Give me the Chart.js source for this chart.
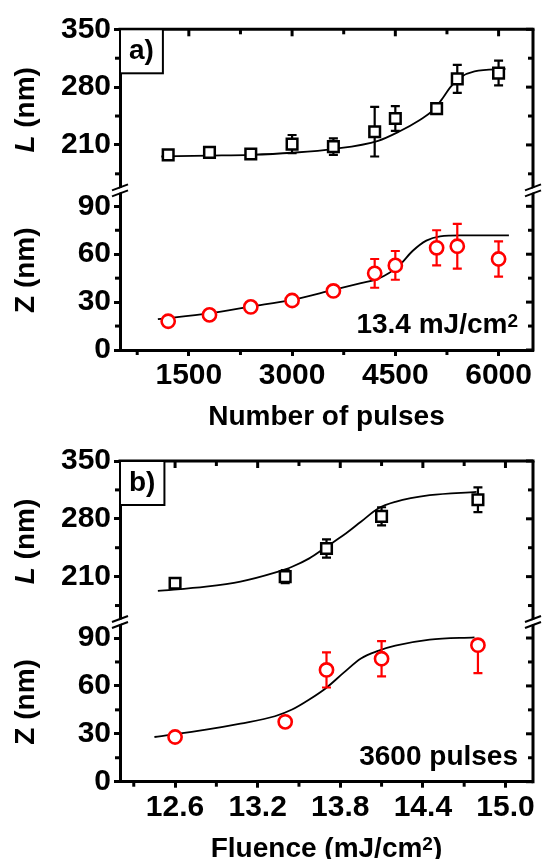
<!DOCTYPE html>
<html>
<head>
<meta charset="utf-8">
<script src="https://cdn.jsdelivr.net/npm/chart.js@4/dist/chart.umd.min.js"></script>
<style>
  body { margin: 0; background: #fff; width: 543px; height: 859px; overflow: hidden; position: relative; }
  canvas { position: absolute; left: 0; }
  #panelA { top: 0; }
  #panelB { top: 440px; }
</style>
</head>
<body>
<canvas id="panelA" width="543" height="440"></canvas>
<canvas id="panelB" width="543" height="419"></canvas>
<script>
const FONT = "'Liberation Sans', Arial, sans-serif";

// a) 13.4 mJ/cm2, varying number of pulses
const pulses = [1200, 1800, 2400, 3000, 3600, 4200, 4500, 5100, 5400, 6000];
const lenA = [198, 201, 199, 211, 208, 226, 242, 254, 290, 297];
const lenErrA = [3, 3, 3, 11, 10, 30, 15, 6, 17, 15];
const depA = [18, 22, 27, 31, 37, 48, 53, 64, 65, 57];
const depErrA = [2, 2, 2, 2, 3, 9, 9, 11, 14, 11];
// fitted curves for a)
const lenFitXA = [1100, 1800, 2400, 3000, 3600, 4250, 4550, 4850, 5050, 5200, 5300, 5450, 5650, 6100];
const lenFitA = [196, 197, 198, 200.5, 205, 215, 226, 240, 252, 268, 280, 292, 299, 302];
const depFitXA = [1050, 1800, 2400, 3000, 3600, 4000, 4250, 4550, 4750, 4950, 5150, 5450, 6150];
const depFitA = [19.3, 23, 27.2, 31.4, 37.7, 41.9, 44.6, 52.7, 62, 68.5, 71.2, 71.8, 71.8];

// b) 3600 pulses, varying fluence
const fluence = [12.6, 13.4, 13.7, 14.1, 14.8];
const lenB = [202, 210, 244, 283, 303];
const lenErrB = [3, 8, 11, 11, 15];
const depB = [28, 37.5, 70, 77, 85.5];
const depErrB = [2, 3, 11, 11, 17.5];
// fitted curves for b)
const lenFitXB = [12.475, 12.825, 13.075, 13.325, 13.45, 13.575, 13.7, 13.825, 13.95, 14.075, 14.2, 14.45, 14.79];
const lenFitB = [192.7, 197.9, 204, 214.8, 222, 232.1, 246.2, 260.3, 276.4, 292.5, 300.5, 308.6, 312.6];
const depFitXB = [12.45, 12.825, 13.075, 13.325, 13.45, 13.575, 13.7, 13.825, 13.95, 14.075, 14.2, 14.45, 14.775];
const depFitB = [28, 32.6, 36.4, 41, 45.2, 51.5, 58.9, 68.3, 77.2, 82, 85.2, 89, 90.4];

// ticks
const lenTicks = [210, 280, 350], lenMinor = [175, 245, 315];
const depTicks = [0, 30, 60, 90], depMinor = [15, 45, 75];
const pulseTicks = [1500, 3000, 4500, 6000], pulseMinor = [750, 2250, 3750, 5250];
const fluTicks = [12.6, 13.2, 13.8, 14.4, 15.0], fluMinor = [12.3, 12.9, 13.5, 14.1, 14.7];

function fontFor(p, size) {
  const s = p.sup ? Math.round(size * 0.68) : size;
  return (p.italic ? 'italic ' : '') + 'bold ' + s + 'px ' + FONT;
}

// text made of pieces (italic / superscript)
function drawRich(ctx, parts, x, y, size, align) {
  let w = 0;
  parts.forEach(p => { ctx.font = fontFor(p, size); w += ctx.measureText(p.t).width; });
  let cx = align === 'right' ? x - w : align === 'center' ? x - w / 2 : x;
  ctx.textAlign = 'left';
  ctx.textBaseline = 'alphabetic';
  ctx.fillStyle = '#000';
  parts.forEach(p => {
    ctx.font = fontFor(p, size);
    ctx.fillText(p.t, cx, p.sup ? y - size * 0.23 : y);
    cx += ctx.measureText(p.t).width;
  });
}

const frame = {
  id: 'frame',
  // error bars go under their markers
  beforeDatasetDraw(chart, args) {
    const ds = chart.data.datasets[args.index];
    if (!ds.err) return;
    const xs = chart.scales.x, ys = chart.scales[ds.yAxisID];
    const ctx = chart.ctx;
    ctx.save();
    ctx.strokeStyle = ds.borderColor;
    ctx.lineWidth = 2.2;
    ds.data.forEach((p, i) => {
      const e = ds.err[i];
      const px = xs.getPixelForValue(p.x);
      const py = ys.getPixelForValue(p.y);
      [p.y + e, p.y - e].forEach(v => {
        if (v > ys.max || v < ys.min) return;
        const q = ys.getPixelForValue(v);
        ctx.beginPath();
        ctx.moveTo(px, py); ctx.lineTo(px, q);
        ctx.moveTo(px - 4.5, q); ctx.lineTo(px + 4.5, q);
        ctx.stroke();
      });
    });
    ctx.restore();
  },
  afterDraw(chart, args, o) {
    const {ctx, chartArea: a, scales} = chart;
    const x = scales.x, yL = scales.yL, yZ = scales.yZ;
    ctx.save();
    ctx.lineCap = 'butt';
    const line = (x1, y1, x2, y2, w) => {
      ctx.lineWidth = w;
      ctx.beginPath(); ctx.moveTo(x1, y1); ctx.lineTo(x2, y2); ctx.stroke();
    };
    ctx.strokeStyle = '#000';
    line(a.left - 1.5, a.top, a.right + 1.5, a.top, 3);
    line(a.right, a.top, a.right, a.bottom + 1.5, 3);

    o.xTicks.forEach(v => {
      const px = x.getPixelForValue(v);
      line(px, a.top, px, a.top + 7, 3);
    });
    o.xMinor.forEach(v => {
      const px = x.getPixelForValue(v);
      line(px, a.bottom, px, a.bottom + 5, 3);
      line(px, a.top, px, a.top + 5, 3);
    });
    [[yL, lenTicks, lenMinor], [yZ, depTicks, depMinor]].forEach(([s, major, minor]) => {
      major.forEach(v => {
        const py = s.getPixelForValue(v);
        line(a.right - 7, py, a.right, py, 3);
      });
      minor.forEach(v => {
        const py = s.getPixelForValue(v);
        line(a.left - 5, py, a.left, py, 3);
        line(a.right - 5, py, a.right, py, 3);
      });
    });

    // axis breaks
    const yb = yL.bottom;
    [a.left, a.right].forEach(bx => {
      ctx.strokeStyle = '#fff';
      line(bx - 8, yb + 3, bx + 8, yb - 3, 4);
      ctx.strokeStyle = '#000';
      line(bx - 8, yb, bx + 8, yb - 6, 2);
      line(bx - 8, yb + 6, bx + 8, yb, 2);
    });

    // panel tag
    ctx.font = 'bold 28px ' + FONT;
    const bw = ctx.measureText(o.tag).width + 18;
    ctx.fillStyle = '#fff';
    ctx.fillRect(a.left, a.top, bw, 44);
    ctx.strokeStyle = '#000';
    ctx.lineWidth = 2;
    ctx.strokeRect(a.left, a.top, bw, 44);
    drawRich(ctx, [{t: o.tag}], a.left + bw / 2, a.top + 30, 28, 'center');

    drawRich(ctx, o.note, a.right - 15, a.bottom - 17, 28, 'right');
    drawRich(ctx, o.xTitle, (a.left + a.right) / 2, a.bottom + 75, 28, 'center');

    [[yL, [{t: 'L', italic: true}, {t: ' (nm)'}]], [yZ, [{t: 'Z (nm)'}]]].forEach(([s, parts]) => {
      ctx.save();
      ctx.translate(24, (s.top + s.bottom) / 2);
      ctx.rotate(-Math.PI / 2);
      drawRich(ctx, parts, 0, 10, 28, 'center');
      ctx.restore();
    });
    ctx.restore();
  }
};

function panel(id, o) {
  const pts = (xs, ys) => xs.map((v, i) => ({x: v, y: ys[i]}));
  const tickFont = {family: FONT, size: 30, weight: 'bold'};
  const grid = {drawOnChartArea: false, drawTicks: true, tickLength: 6, tickWidth: 3, tickColor: '#000'};
  const border = {display: true, color: '#000', width: 3};
  const yAxis = (min, max, ticks, weight, order) => ({
    type: 'linear', axis: 'y', position: 'left', stack: 'seg', stackWeight: weight, weight: order,
    min: min, max: max,
    afterBuildTicks: s => { s.ticks = ticks.map(v => ({value: v})); },
    afterFit: s => { s.width = 120; },
    ticks: {font: tickFont, color: '#000', padding: 3, autoSkip: false, callback: v => String(v)},
    grid: grid, border: border
  });
  return new Chart(document.getElementById(id), {
    type: 'scatter',
    data: {
      datasets: [
        {label: 'L', data: pts(o.x, o.len), err: o.lenErr, yAxisID: 'yL', pointStyle: 'rect', pointRadius: 7.5,
          borderColor: '#000', backgroundColor: '#fff', borderWidth: 2.5},
        {label: 'Z', data: pts(o.x, o.dep), err: o.depErr, yAxisID: 'yZ', pointStyle: 'circle', pointRadius: 6.6,
          borderColor: '#ff0000', backgroundColor: '#fff', borderWidth: 2.6},
        {label: 'L fit', data: pts(o.lenFitX, o.lenFit), yAxisID: 'yL', showLine: true, pointRadius: 0,
          borderColor: '#000', borderWidth: 1.8, cubicInterpolationMode: 'monotone'},
        {label: 'Z fit', data: pts(o.depFitX, o.depFit), yAxisID: 'yZ', showLine: true, pointRadius: 0,
          borderColor: '#000', borderWidth: 1.8, cubicInterpolationMode: 'monotone'}
      ]
    },
    options: {
      responsive: false,
      animation: false,
      events: [],
      layout: {padding: {top: o.top, right: o.right, left: 0, bottom: 0}},
      plugins: {
        legend: {display: false},
        tooltip: {enabled: false},
        frame: {tag: o.tag, note: o.note, xTitle: o.xTitle, xTicks: o.xTicks, xMinor: o.xMinor}
      },
      scales: {
        x: {
          type: 'linear', position: 'bottom', min: o.xMin, max: o.xMax,
          afterBuildTicks: s => { s.ticks = o.xTicks.map(v => ({value: v})); },
          afterFit: s => { s.height = o.xH; },
          ticks: {font: tickFont, color: '#000', padding: 2, maxRotation: 0, autoSkip: false, callback: o.fmt},
          grid: grid, border: border
        },
        yZ: yAxis(0, 100, depTicks, 159.6, 0),
        yL: yAxis(155, 350, lenTicks, 161, 1)
      }
    },
    plugins: [frame]
  });
}

panel('panelA', {
  x: pulses, len: lenA, lenErr: lenErrA, dep: depA, depErr: depErrA,
  lenFitX: lenFitXA, lenFit: lenFitA, depFitX: depFitXA, depFit: depFitA,
  xMin: 500, xMax: 6500, xTicks: pulseTicks, xMinor: pulseMinor, fmt: v => String(v),
  top: 29.3, right: 2, xH: 90,
  tag: 'a)', note: [{t: '13.4 mJ/cm'}, {t: '2', sup: true}], xTitle: [{t: 'Number of pulses'}]
});

panel('panelB', {
  x: fluence, len: lenB, lenErr: lenErrB, dep: depB, depErr: depErrB,
  lenFitX: lenFitXB, lenFit: lenFitB, depFitX: depFitXB, depFit: depFitB,
  xMin: 12.2, xMax: 15.2, xTicks: fluTicks, xMinor: fluMinor, fmt: v => v.toFixed(1),
  top: 20.7, right: 5, xH: 77.3,
  tag: 'b)', note: [{t: '3600 pulses'}],
  xTitle: [{t: 'Fluence (mJ/cm'}, {t: '2', sup: true}, {t: ')'}]
});
</script>
</body>
</html>
